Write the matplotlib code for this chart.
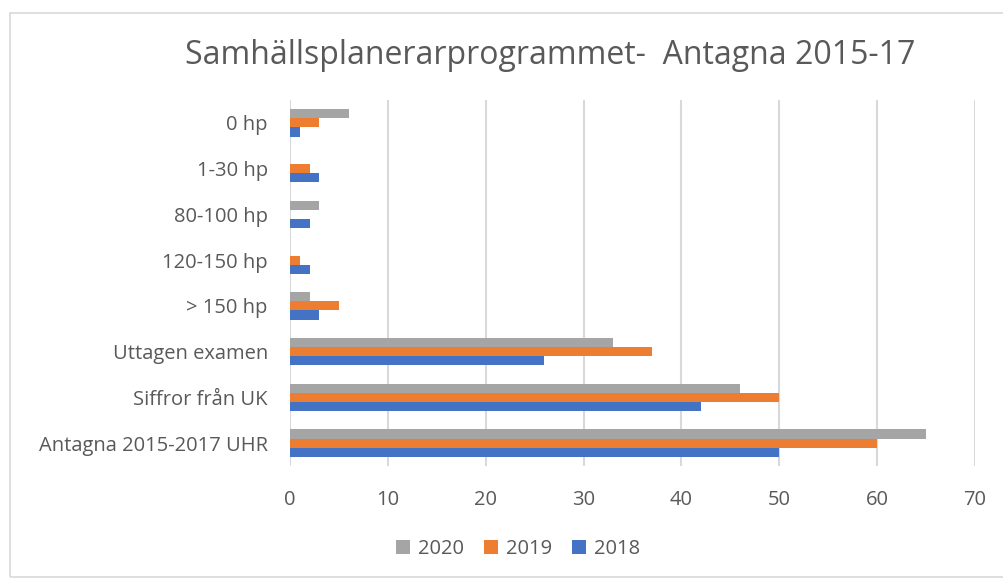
import matplotlib
matplotlib.use("Agg")
import matplotlib.pyplot as plt
from matplotlib.patches import Rectangle
import numpy as np

categories = ["Antagna 2015-2017 UHR", "Siffror från UK", "Uttagen examen", "> 150 hp",
              "120-150 hp", "80-100 hp", "1-30 hp", "0 hp"]
years = ["2018", "2019", "2020"]
v2018 = [50, 42, 26, 3, 2, 2, 3, 1]
v2019 = [60, 50, 37, 5, 1, 0, 2, 3]
v2020 = [65, 46, 33, 2, 0, 3, 0, 6]
colors = {"2018": "#4472C4", "2019": "#ED7D31", "2020": "#A5A5A5"}
title = "Samhällsplanerarprogrammet-  Antagna 2015-17"
xticks = [0, 10, 20, 30, 40, 50, 60, 70]

plt.rcParams['font.family'] = ['Open Sans', 'DejaVu Sans']

fig = plt.figure(figsize=(10.04, 5.79), dpi=100)
W, H = 1004, 579
ax = fig.add_axes([290 / W, 1 - 466 / H, (975 - 290) / W, (466 - 100) / H])

fig.patches.append(Rectangle((10 / W, 0.003), 1.2, 1 - 13 / H - 0.003, transform=fig.transFigure,
                             fill=False, edgecolor="#D9D9D9", linewidth=1.2, zorder=0))

y = np.arange(len(categories))
h = 0.2
series = [("2018", v2018, -h), ("2019", v2019, 0), ("2020", v2020, h)]
bars = {}
for name, vals, off in series:
    bars[name] = ax.barh(y + off, vals, height=h, color=colors[name], label=name, zorder=3)

ax.set_xlim(0, 70)
ax.set_ylim(-0.5, len(categories) - 0.5)
ax.set_xticks(xticks)
ax.set_yticks(y)
ax.set_yticklabels(categories)
ax.grid(axis="x", color="#D9D9D9", linewidth=1.5, zorder=0)
for s in ax.spines.values():
    s.set_visible(False)
ax.tick_params(axis="both", length=0, labelsize=14.5, colors="#595959")
ax.tick_params(axis="x", pad=17)
ax.tick_params(axis="y", pad=16)

fig.text(550 / W, 1 - 56 / H, title, ha="center", va="center", fontsize=23, color="#595959")

handles = [bars["2020"], bars["2019"], bars["2018"]]
fig.legend(handles, ["2020", "2019", "2018"], loc="center", bbox_to_anchor=(518 / W, 1 - 549 / H),
           ncol=3, frameon=False, fontsize=14.5, handlelength=0.7, handleheight=0.7,
           handletextpad=0.4, columnspacing=1.0, labelcolor="#595959")

fig.savefig("out.png", dpi=100, facecolor="white")
